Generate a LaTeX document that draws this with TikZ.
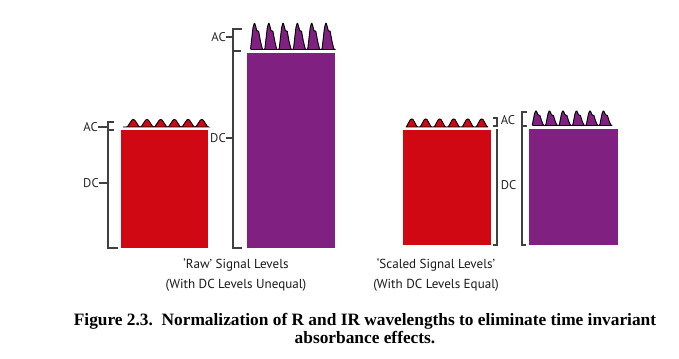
\documentclass[tikz,border=0pt]{standalone}
\usepackage{fontspec}
\setmainfont{Liberation Serif}
\newfontfamily\labelfont{PT Sans}
\usetikzlibrary{positioning}
\definecolor{rawred}{RGB}{208,8,20}
\definecolor{rawpurple}{RGB}{128,32,128}
\tikzstyle{redbar} = [fill=rawred]
\tikzstyle{purplebar} = [fill=rawpurple]
\tikzstyle{redwave} = [fill=rawred, draw=black, line width=0.7pt, rounded corners=0.6pt]
\tikzstyle{purplewave} = [fill=rawpurple, draw=black, line width=0.7pt, rounded corners=0.6pt]
\tikzstyle{bracket} = [draw=black!75, line width=0.9pt]
\tikzstyle{level} = [font=\labelfont\fontsize{9.5}{10}\selectfont, text=black!85, inner sep=0pt]
\tikzstyle{legend} = [font=\labelfont\fontsize{9.8}{15}\selectfont, text=black!90, align=center, inner sep=0pt]
\tikzstyle{caption} = [font=\bfseries\fontsize{13}{13.5}\selectfont, align=center, inner sep=0pt]

\begin{document}
\begin{tikzpicture}[x=0.75pt, y=-0.75pt]
\useasboundingbox (0,0) rectangle (679,359);

% raw levels: red
\fill[redbar] (121,130.5) rectangle (207.5,248);
\filldraw[redwave] (122,127) \foreach \c in {133.3,147,160.7,174.4,188.1,201.8} { -- (\c-6,127) -- (\c-1,119.5) -- (\c+1,119.5) -- (\c+6,127) } -- (208,127) -- cycle;

% raw levels: purple
\fill[purplebar] (247,53.5) rectangle (335,248);
\begin{scope}[shift={(250.5,49.5)}]
\filldraw[purplewave] (0,0) \foreach \k in {0,...,5} { -- ++(2.5,-22) -- ++(1.5,-5) -- ++(1.5,5) -- ++(1,4) -- ++(1.5,-1) -- ++(2,11) -- ++(2,8) -- ++(2.3,0) } -- cycle;
\end{scope}

% scaled levels: red
\fill[redbar] (403,130) rectangle (490.5,245.5);
\filldraw[redwave] (406.5,127) \foreach \c in {411.7,425.7,439.7,453.7,467.7,481.7} { -- (\c-5.5,127) -- (\c-1,119) -- (\c+1,119) -- (\c+5.5,127) } -- (489,127) -- cycle;

% scaled levels: purple
\fill[purplebar] (529,129.5) rectangle (618,245.5);
\begin{scope}[shift={(532.2,125.5)}, xscale=0.944, yscale=0.556]
\filldraw[purplewave] (0,0) \foreach \k in {0,...,5} { -- ++(2.5,-22) -- ++(1.5,-5) -- ++(1.5,5) -- ++(1,4) -- ++(1.5,-1) -- ++(2,11) -- ++(2,8) -- ++(2.3,0) } -- cycle;
\end{scope}

% brackets
\coordinate (redac) at (108,127);
\coordinate (reddc) at (108,183);
\coordinate (purac) at (233,37);
\coordinate (purdc) at (233,138);
\draw[bracket] (114,122) -- (108,122) -- (108,248) -- (118,248);
\draw[bracket] (108,130) -- (114,130);
\draw[bracket] (242,29) -- (233,29) -- (233,248) -- (242,248);
\draw[bracket] (233,51) -- (241,51);
\draw[bracket] (493,118) -- (497,118) -- (497,126) -- (493,126);
\draw[bracket] (497,129.5) -- (497,245) -- (493,245);
\draw[bracket] (527,112) -- (522,112) -- (522,245) -- (526,245);
\draw[bracket] (522,126) -- (527,126);

% labels
\node (acred) [level, anchor=east] at (98,127) {AC};
\node (dcred) [level, anchor=east] at (99,183) {DC};
\node (acpur) [level, anchor=east] at (226,37) {AC};
\node (dcpur) [level, anchor=east] at (226,138) {DC};
\node (acscaled) [level, anchor=west] at (500.5,120) {AC};
\node (dcscaled) [level, anchor=west] at (500.5,185) {DC};
\draw[bracket] (acred) -- (redac);
\draw[bracket] (dcred) -- (reddc);
\draw[bracket] (acpur) -- (purac);
\draw[bracket] (dcpur) -- (purdc);

\node (rawtxt) [legend] at (236,275) {‘Raw’ Signal Levels\\(With DC Levels Unequal)};
\node (scaledtxt) [legend, right=150pt of rawtxt.center, anchor=center] {‘Scaled Signal Levels’\\(With DC Levels Equal)};

\node (fig) [caption] at (365,329) {Figure 2.3.\ \ Normalization of R and IR wavelengths to eliminate time invariant\\absorbance effects.};

\end{tikzpicture}
\end{document}
